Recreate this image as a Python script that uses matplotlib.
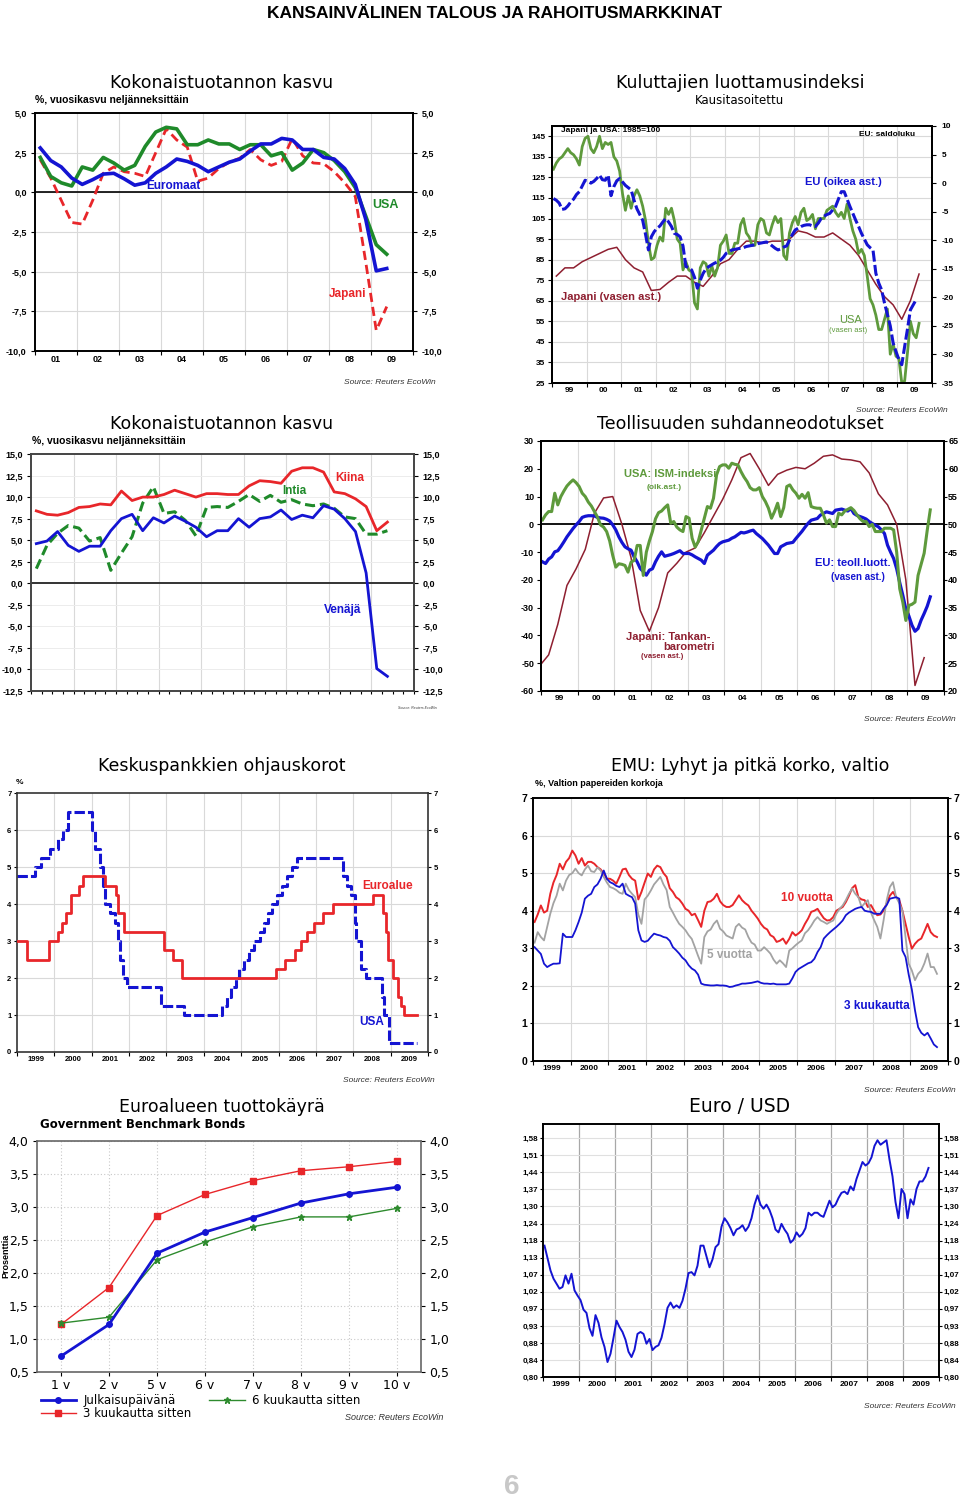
import numpy as np
import pandas as pd
import matplotlib
matplotlib.use("Agg")
import matplotlib.pyplot as plt
from matplotlib.ticker import NullLocator

plt.rcParams["font.family"] = ["Liberation Sans", "DejaVu Sans"]

# ---------------- data ----------------
# GDP growth, % y/y, quarterly 2001Q1 .. 2009Q2
gdp_euro = [2.8, 2.0, 1.6, 0.9, 0.5, 0.8, 1.15, 1.2, 0.85, 0.45, 0.6, 1.2,
            1.6, 2.1, 1.95, 1.7, 1.3, 1.6, 1.9, 2.1, 2.6, 3.05, 3.05, 3.4,
            3.3, 2.7, 2.7, 2.2, 2.1, 1.5, 0.5, -1.7, -4.95, -4.8]
gdp_usa = [2.2, 1.0, 0.6, 0.4, 1.6, 1.4, 2.2, 1.85, 1.4, 1.7, 2.9, 3.8,
           4.1, 4.0, 3.0, 3.0, 3.3, 3.05, 3.05, 2.7, 3.0, 3.0, 2.3, 2.5,
           1.4, 1.85, 2.7, 2.5, 2.0, 1.3, 0.3, -1.5, -3.3, -3.9]
gdp_japan = [2.05, 0.9, -0.5, -1.9, -2.0, -0.5, 1.2, 1.6, 1.3, 1.2, 1.0, 2.5,
             4.0, 3.3, 2.85, 0.7, 0.9, 1.5, 1.9, 2.15, 2.7, 2.05, 1.7, 1.95,
             3.4, 2.3, 1.85, 1.8, 1.3, 0.6, -0.25, -4.4, -8.7, -7.2]
gdp_china = [8.4, 8.0, 7.9, 8.2, 8.8, 8.9, 9.2, 9.1, 10.7, 9.6, 10.0, 10.0,
             10.3, 10.8, 10.4, 10.0, 10.4, 10.4, 10.3, 10.3, 11.3, 11.9, 11.8, 11.6,
             13.0, 13.4, 13.4, 12.9, 10.6, 10.4, 9.8, 8.9, 6.1, 7.1]
gdp_india = [1.7, 4.4, 5.8, 6.7, 6.4, 4.9, 5.3, 1.5, 3.5, 5.4, 9.3, 11.2,
             8.1, 8.3, 7.3, 5.5, 8.8, 8.9, 8.8, 9.5, 10.3, 9.5, 10.2, 9.4,
             9.7, 9.2, 9.0, 9.2, 8.7, 7.7, 7.5, 5.7, 5.7, 6.1]
gdp_russia = [4.6, 4.9, 6.0, 4.4, 3.7, 4.3, 4.3, 6.1, 7.5, 8.0, 6.1, 7.6,
              7.0, 7.8, 7.2, 6.5, 5.4, 6.1, 6.1, 7.5, 6.5, 7.5, 7.7, 8.5,
              7.4, 7.9, 7.6, 9.0, 8.6, 7.5, 6.0, 1.2, -9.9, -10.8]

# consumer confidence, monthly from 1999-01 (Japan quarterly from 1999Q1)
conf_usa = [129, 132, 134, 135, 137, 139, 137, 136, 134, 131, 140, 144,
            145, 139, 137, 140, 145, 139, 142, 141, 142, 135, 133, 128,
            117, 109, 116, 110, 116, 119, 116, 111, 104, 93, 85, 86,
            92, 96, 94, 110, 107, 110, 104, 95, 93, 80, 84, 80,
            79, 64, 61, 81, 84, 83, 77, 82, 77, 81, 92, 94,
            97, 88, 88, 93, 93, 102, 105, 98, 96, 92, 92, 102,
            105, 104, 98, 97, 102, 106, 103, 105, 87, 85, 98, 103,
            106, 102, 108, 110, 104, 105, 107, 100, 105, 105, 105, 109,
            110, 111, 108, 106, 108, 105, 112, 105, 99, 95, 88, 90,
            87, 77, 66, 63, 58, 51, 51, 56, 61, 39, 44, 38,
            37, 25, 26, 40, 55, 49, 47, 54]
conf_eu = [-2.7, -3.0, -3.5, -4.6, -4.5, -4.0, -3.3, -2.8, -2.0, -1.5, -0.5, 0.5,
           0.3, 0.0, 0.3, 0.8, 1.4, 0.6, 0.5, 1.4, -2.2, -0.6, 0.4, 0.8,
           0.2, -0.4, -0.8, -1.2, -3.0, -4.5, -5.5, -6.5, -9.0, -11.7, -9.4, -8.5,
           -7.9, -7.5, -6.8, -6.2, -6.8, -7.6, -8.8, -9.0, -9.4, -11.0, -14.6, -14.8,
           -15.2, -16.5, -18.4, -17.0, -15.8, -15.0, -14.6, -14.3, -14.0, -13.8, -13.5, -13.0,
           -12.3, -12.0, -11.7, -11.6, -11.5, -11.4, -11.3, -11.1, -11.0, -10.9, -10.8, -10.6,
           -10.5, -10.4, -10.3, -10.6, -11.0, -11.4, -11.7, -11.5, -11.2, -11.0, -10.0, -9.0,
           -8.2, -7.9, -7.6, -7.4, -7.3, -7.3, -7.5, -7.6, -7.0, -6.2, -5.8, -5.5,
           -5.3, -4.7, -4.1, -2.8, -1.5, -1.5, -2.8, -4.1, -5.3, -6.5, -7.6, -8.8,
           -9.8, -10.8, -11.3, -11.7, -15.8, -17.5, -18.7, -21.0, -23.0, -25.0, -28.0, -29.5,
           -30.9, -31.8, -28.6, -25.5, -22.2, -21.3, -20.4]
conf_japan = [77, 81, 81, 84, 86, 88, 90, 91, 85, 81, 79, 70,
              70.5, 74, 77, 77, 74, 72, 77, 83, 85, 90, 94, 94,
              93, 94, 94, 95, 99, 98, 96, 96, 98, 95, 92, 87,
              80, 73, 67, 63, 56, 65, 78]

# business surveys, monthly from 1999-01; Tankan quarterly from Dec 1998
ism = [50.8, 51.7, 52.3, 52.3, 55.6, 53.5, 55.0, 56.0, 56.9, 57.5, 58.0, 57.5,
       56.8, 55.6, 55.0, 54.0, 53.3, 52.3, 51.3, 49.9, 49.5, 48.7, 47.0, 44.4,
       42.3, 42.9, 42.8, 42.6, 41.4, 43.2, 43.5, 46.2, 46.2, 40.8, 45.0, 47.0,
       48.7, 51.0, 52.1, 52.4, 53.0, 53.5, 50.2, 50.5, 49.5, 49.0, 48.7, 51.4,
       51.1, 47.5, 45.9, 46.9, 49.0, 51.1, 53.2, 52.9, 54.7, 58.9, 60.4, 60.7,
       60.7, 60.1, 61.0, 60.8, 60.7, 59.5, 58.5, 57.7, 56.6, 56.2, 56.2, 56.6,
       55.0, 54.1, 52.9, 51.1, 52.3, 53.8, 51.4, 53.0, 56.8, 57.1, 56.2, 55.6,
       54.7, 55.4, 54.7, 55.7, 53.2, 53.0, 52.9, 52.9, 51.7, 50.2, 50.8, 49.6,
       49.6, 52.0, 51.7, 52.4, 52.7, 53.0, 52.5, 51.7, 51.0, 50.5, 50.5, 49.6,
       50.0, 48.7, 48.7, 48.7, 49.3, 49.3, 49.3, 49.0, 45.0, 38.4, 36.0, 32.7,
       35.4, 35.6, 36.0, 40.8, 42.8, 44.8, 48.9, 52.6]
eu_industry = [-13.5, -14.1, -12.5, -11.7, -9.9, -9.5, -8.0, -6.3, -4.5, -3.0, -1.5, -0.2,
               1.0, 2.5, 2.9, 3.1, 3.1, 3.0, 2.5, 2.3, 2.2, 1.8, 1.2, -0.2,
               -2.0, -4.5, -6.5, -8.1, -8.8, -9.3, -11.7, -13.5, -15.9, -17.0, -18.3, -16.5,
               -16.0, -13.5, -11.5, -9.9, -11.5, -11.2, -10.9, -10.5, -10.0, -9.5, -10.5, -10.5,
               -10.5, -11.0, -11.7, -12.3, -12.9, -14.1, -11.1, -10.2, -9.3, -8.0, -6.9, -6.3,
               -6.0, -5.7, -5.0, -4.5, -3.7, -2.9, -3.1, -2.8, -2.4, -2.1, -3.3, -4.2,
               -5.1, -6.3, -7.5, -9.0, -10.5, -10.5, -8.1, -7.5, -6.9, -6.7, -6.5, -5.1,
               -3.8, -2.5, -1.0, 0.4, 1.5, 1.8, 2.1, 3.3, 3.9, 4.5, 4.2, 3.9,
               5.1, 5.3, 5.5, 5.1, 4.8, 5.7, 3.9, 3.2, 2.8, 2.4, 1.9, 1.0,
               0.3, -0.3, -0.9, -2.0, -3.3, -7.5, -10.0, -12.3, -16.0, -21.0, -25.5, -30.5,
               -33.0, -36.3, -38.5, -37.5, -34.5, -32.1, -29.5, -26.1]
tankan = [-51, -47, -36, -22, -16, -9, 4, 9.5, 10, 0, -12, -31, -38.5,
          -30, -17.5, -14, -10, -8.5, -3, 3, 9, 16, 24, 25.5, 20,
          14, 18, 19.5, 20.5, 20, 22, 24.5, 25, 23.5, 23.2, 22.5, 18.5,
          11, 7, 0, -20, -58, -48]

# policy rates (change dates)
ecb_dates = ["1999-01-01", "1999-04-09", "1999-11-05", "2000-02-04", "2000-03-17",
             "2000-04-28", "2000-06-09", "2000-09-01", "2000-10-06", "2001-05-11",
             "2001-08-31", "2001-09-18", "2001-11-09", "2002-12-06", "2003-03-07",
             "2003-06-06", "2005-12-06", "2006-03-08", "2006-06-15", "2006-08-09",
             "2006-10-11", "2006-12-13", "2007-03-14", "2007-06-13", "2008-07-09",
             "2008-10-15", "2008-11-12", "2008-12-10", "2009-01-21", "2009-03-11",
             "2009-04-08", "2009-05-13", "2009-09-15"]
ecb_rates = [3.0, 2.5, 3.0, 3.25, 3.5, 3.75, 4.25, 4.5, 4.75, 4.5, 4.25, 3.75, 3.25,
             2.75, 2.5, 2.0, 2.25, 2.5, 2.75, 3.0, 3.25, 3.5, 3.75, 4.0,
             4.25, 3.75, 3.25, 2.5, 2.0, 1.5, 1.25, 1.0, 1.0]
fed_dates = ["1999-01-01", "1999-06-30", "1999-08-24", "1999-11-16", "2000-02-02",
             "2000-03-21", "2000-05-16", "2001-01-03", "2001-01-31", "2001-03-20",
             "2001-04-18", "2001-05-15", "2001-06-27", "2001-08-21", "2001-09-17",
             "2001-10-02", "2001-11-06", "2001-12-11", "2002-11-06", "2003-06-25",
             "2004-06-30", "2004-08-10", "2004-09-21", "2004-11-10", "2004-12-14",
             "2005-02-02", "2005-03-22", "2005-05-03", "2005-06-30", "2005-08-09",
             "2005-09-20", "2005-11-01", "2005-12-13", "2006-01-31", "2006-03-28",
             "2006-05-10", "2006-06-29", "2007-09-18", "2007-10-31", "2007-12-11",
             "2008-01-22", "2008-01-30", "2008-03-18", "2008-04-30", "2008-10-08",
             "2008-10-29", "2008-12-16", "2009-09-15"]
fed_rates = [4.75, 5.0, 5.25, 5.5, 5.75, 6.0, 6.5, 6.0, 5.5, 5.0, 4.5, 4.0, 3.75,
             3.5, 3.0, 2.5, 2.0, 1.75, 1.25, 1.0, 1.25, 1.5, 1.75, 2.0, 2.25,
             2.5, 2.75, 3.0, 3.25, 3.5, 3.75, 4.0, 4.25, 4.5, 4.75, 5.0, 5.25,
             4.75, 4.5, 4.25, 3.5, 3.0, 2.25, 2.0, 1.5, 1.0, 0.25, 0.25]

# EMU government yields, monthly from 1999-01
yield_10y = [3.7, 3.9, 4.14, 3.95, 4.0, 4.45, 4.75, 4.95, 5.25, 5.1, 5.3, 5.4,
             5.6, 5.47, 5.25, 5.4, 5.2, 5.3, 5.3, 5.25, 5.16, 5.1, 4.99, 4.85,
             4.85, 4.8, 4.72, 4.9, 5.1, 5.12, 4.95, 4.85, 4.8, 4.3, 4.5, 4.75,
             4.99, 4.9, 5.1, 5.2, 5.16, 5.0, 4.9, 4.6, 4.5, 4.36, 4.3, 4.19,
             4.05, 4.0, 3.88, 3.92, 3.75, 3.57, 4.0, 4.23, 4.25, 4.32, 4.45, 4.25,
             4.15, 4.1, 4.1, 4.15, 4.28, 4.41, 4.28, 4.2, 4.14, 4.0, 3.9, 3.79,
             3.65, 3.55, 3.5, 3.35, 3.3, 3.17, 3.2, 3.26, 3.12, 3.25, 3.43, 3.34,
             3.4, 3.48, 3.65, 3.79, 3.97, 4.0, 4.05, 3.92, 3.8, 3.74, 3.75, 3.83,
             4.0, 4.05, 4.1, 4.23, 4.4, 4.6, 4.68, 4.36, 4.3, 4.28, 4.1, 4.15,
             4.0, 3.88, 3.9, 4.0, 4.2, 4.4, 4.5, 4.36, 4.28, 4.0, 3.65, 3.3,
             2.99, 3.12, 3.21, 3.26, 3.45, 3.65, 3.43, 3.34, 3.3]
yield_5y = [3.15, 3.43, 3.3, 3.21, 3.57, 3.92, 4.2, 4.4, 4.72, 4.54, 4.8, 4.95,
            5.0, 5.12, 5.0, 4.94, 5.1, 5.2, 5.05, 5.03, 5.15, 5.07, 4.9, 4.75,
            4.63, 4.6, 4.55, 4.48, 4.45, 4.72, 4.55, 4.45, 4.36, 3.9, 3.65, 4.3,
            4.4, 4.54, 4.7, 4.8, 4.9, 4.7, 4.55, 4.1, 3.95, 3.79, 3.65, 3.57,
            3.48, 3.35, 3.25, 3.03, 2.8, 2.59, 3.3, 3.45, 3.5, 3.65, 3.74, 3.52,
            3.45, 3.34, 3.3, 3.26, 3.57, 3.65, 3.55, 3.5, 3.3, 3.15, 3.1, 2.94,
            2.94, 3.03, 2.95, 2.86, 2.7, 2.59, 2.68, 2.6, 2.5, 2.94, 3.0, 3.08,
            3.15, 3.21, 3.4, 3.48, 3.6, 3.74, 3.83, 3.74, 3.7, 3.65, 3.7, 3.74,
            3.92, 4.05, 4.14, 4.28, 4.45, 4.59, 4.45, 4.36, 4.1, 4.2, 4.28, 3.95,
            3.75, 3.57, 3.26, 3.74, 4.28, 4.63, 4.76, 4.36, 4.2, 4.0, 3.3, 2.59,
            2.41, 2.15, 2.32, 2.41, 2.6, 2.86, 2.5, 2.5, 2.32]
yield_3m = [3.03, 2.94, 2.85, 2.59, 2.5, 2.55, 2.59, 2.59, 2.6, 3.39, 3.3, 3.3,
            3.3, 3.48, 3.7, 3.95, 4.32, 4.4, 4.45, 4.63, 4.7, 4.85, 5.07, 4.85,
            4.76, 4.72, 4.66, 4.63, 4.72, 4.45, 4.4, 4.36, 4.19, 3.48, 3.21, 3.17,
            3.2, 3.3, 3.39, 3.36, 3.34, 3.3, 3.28, 3.2, 3.03, 2.95, 2.86, 2.75,
            2.68, 2.55, 2.46, 2.41, 2.3, 2.06, 2.03, 2.02, 2.01, 2.01, 2.02, 2.01,
            2.01, 2.0, 1.97, 1.98, 2.01, 2.03, 2.06, 2.06, 2.07, 2.08, 2.1, 2.12,
            2.08, 2.06, 2.06, 2.05, 2.06, 2.04, 2.04, 2.04, 2.04, 2.06, 2.2, 2.37,
            2.45, 2.5, 2.55, 2.6, 2.63, 2.72, 2.9, 3.03, 3.26, 3.35, 3.43, 3.5,
            3.57, 3.65, 3.74, 3.88, 3.95, 4.0, 4.05, 4.08, 4.1, 4.0, 3.98, 3.97,
            3.92, 3.92, 3.92, 4.05, 4.15, 4.32, 4.34, 4.36, 4.32, 2.94, 2.77, 2.3,
            1.9, 1.35, 0.9, 0.75, 0.68, 0.75, 0.6, 0.44, 0.37]

# euro area yield curve
maturities = ["1 v", "2 v", "5 v", "6 v", "7 v", "8 v", "9 v", "10 v"]
curve_now = [0.74, 1.22, 2.30, 2.62, 2.84, 3.06, 3.20, 3.30]
curve_3m = [1.22, 1.78, 2.87, 3.19, 3.40, 3.55, 3.61, 3.69]
curve_6m = [1.24, 1.33, 2.20, 2.47, 2.70, 2.85, 2.85, 2.98]

# EUR/USD, monthly from 1999-01
eurusd = [1.165, 1.125, 1.085, 1.06, 1.045, 1.03, 1.035, 1.07, 1.045, 1.075, 1.025, 1.01,
          0.997, 0.97, 0.961, 0.92, 0.9, 0.955, 0.934, 0.896, 0.872, 0.835, 0.855, 0.895,
          0.94, 0.923, 0.91, 0.89, 0.86, 0.847, 0.865, 0.905, 0.91, 0.905, 0.88, 0.892,
          0.864, 0.872, 0.876, 0.895, 0.93, 0.975, 0.99, 0.975, 0.982, 0.975, 0.995, 1.03,
          1.077, 1.08, 1.07, 1.10, 1.165, 1.165, 1.13, 1.095, 1.12, 1.16, 1.17, 1.23,
          1.26, 1.245, 1.225, 1.20, 1.22, 1.225, 1.235, 1.215, 1.23, 1.26, 1.31, 1.345,
          1.31, 1.295, 1.31, 1.29, 1.26, 1.22, 1.21, 1.24, 1.22, 1.205, 1.175, 1.185,
          1.21, 1.195, 1.205, 1.225, 1.28, 1.27, 1.28, 1.28, 1.27, 1.265, 1.295, 1.325,
          1.30, 1.31, 1.335, 1.355, 1.36, 1.35, 1.38, 1.365, 1.41, 1.445, 1.48, 1.465,
          1.475, 1.50, 1.55, 1.575, 1.555, 1.565, 1.575, 1.49, 1.42, 1.32, 1.26, 1.37,
          1.35, 1.26, 1.33, 1.31, 1.37, 1.40, 1.40, 1.42, 1.455]

yy_short = ["99", "00", "01", "02", "03", "04", "05", "06", "07", "08", "09"]
yy_long = [str(y) for y in range(1999, 2010)]

# ---------------- styling ----------------
BLUE = "#1414d2"
RED = "#e8262a"
GREEN = "#1f8a2a"
OLIVE = "#5e9a3c"
DARKRED = "#8e1f30"
GRAY = "#a3a3a3"
GRID = "#d9d9d9"
TITLE_FONT = "DejaVu Sans"

W, H = 960, 1500
fig = plt.figure(figsize=(9.6, 15), dpi=100)


def box(l, t, r, b):
    return [l / W, 1 - b / H, (r - l) / W, (b - t) / H]


def ftext(x, y, s, **kw):
    kw.setdefault("ha", "center")
    kw.setdefault("va", "center")
    fig.text(x / W, 1 - y / H, s, **kw)


def monthly(start, n):
    return start + (np.arange(n) + 0.5) / 12


def quarterly(start, n):
    return start + (np.arange(n) + 0.5) / 4


def dec_year(dates):
    d = pd.to_datetime(dates)
    return np.asarray(d.year + (d.dayofyear - 1) / 365.25)


def comma(v, nd=1):
    return f"{v:.{nd}f}".replace(".", ",")


def year_axis(ax, y0, y1, labels, fs=6.5, pad=3, grid=GRID, glw=0.8):
    ax.set_xlim(y0, y1)
    years = np.arange(y0, y1 + 1)
    ax.set_xticks(years)
    ax.set_xticklabels([])
    ax.set_xticks(years[:-1] + 0.5, minor=True)
    ax.set_xticklabels(labels, minor=True, fontsize=fs, fontweight="bold")
    ax.tick_params(axis="x", which="minor", length=0, pad=pad)
    ax.tick_params(axis="x", which="major", length=3, width=0.8)
    for y in years[1:-1]:
        ax.axvline(y, color=grid, lw=glw, zorder=0)


def frame(ax, lw=1.4, color="black"):
    for s in ax.spines.values():
        s.set_linewidth(lw)
        s.set_color(color)


def source(x, y, fs=6):
    ftext(x, y, "Source: Reuters EcoWin", ha="right", fontsize=fs, style="italic",
          color="#333333")


# header
ftext(495, 14, "KANSAINVÄLINEN TALOUS JA RAHOITUSMARKKINAT", fontsize=12.5,
      fontweight="bold")

# ---------- panel 1: GDP growth, developed ----------
ax = fig.add_axes(box(35, 113, 413, 351))
year_axis(ax, 2001, 2010, yy_short[2:])
ax.set_ylim(-10, 5)
yt = np.arange(-10, 5.01, 2.5)
ax.set_yticks(yt)
ax.set_yticklabels([comma(v) for v in yt], fontsize=6.5, fontweight="bold")
ax.tick_params(axis="y", which="both", right=True, labelright=True, length=3, pad=3)
for v in yt[1:-1]:
    ax.axhline(v, color=GRID, lw=0.8, zorder=0)
ax.axhline(0, color="black", lw=1.2, zorder=1)
tq = quarterly(2001, len(gdp_euro))
ax.plot(tq, gdp_japan, color=RED, lw=2, dashes=(3.3, 1.8), zorder=2)
ax.plot(tq, gdp_usa, color=GREEN, lw=2.6, zorder=3)
ax.plot(tq, gdp_euro, color=BLUE, lw=2.6, zorder=4)
frame(ax)
ftext(222, 83, "Kokonaistuotannon kasvu", fontsize=12.5, family=TITLE_FONT)
ftext(35, 100, "%, vuosikasvu neljänneksittäin", ha="left", fontsize=7.5,
      fontweight="bold")
ftext(173, 186, "Euromaat", color=BLUE, fontsize=8.5, fontweight="bold")
ftext(385, 205, "USA", color=GREEN, fontsize=9, fontweight="bold")
ftext(348, 294, "Japani", color=RED, fontsize=8.5, fontweight="bold")
source(436, 382)

# ---------- panel 2: consumer confidence ----------
ax = fig.add_axes(box(552, 126, 932, 383))
year_axis(ax, 1999, 2010, yy_short, fs=6)
ax.set_ylim(25, 150)
yt = np.arange(25, 146, 10)
ax.set_yticks(yt)
ax.set_yticklabels([str(v) for v in yt], fontsize=6, fontweight="bold")
ax.tick_params(axis="y", length=3, pad=2)
for v in yt[1:]:
    ax.axhline(v, color=GRID, lw=0.8, zorder=0)
ax.plot(quarterly(1999, len(conf_japan)), conf_japan, color=DARKRED, lw=1.1)
ax.plot(monthly(1999, len(conf_usa)), conf_usa, color=OLIVE, lw=2)
axr = ax.twinx()
axr.set_ylim(-35, 10)
yt = np.arange(-35, 11, 5)
axr.set_yticks(yt)
axr.set_yticklabels([str(v) for v in yt], fontsize=6, fontweight="bold")
axr.tick_params(axis="y", length=3, pad=4)
axr.plot(monthly(1999, len(conf_eu)), conf_eu, color=BLUE, lw=2.2, dashes=(3.6, 1.1))
frame(ax)
frame(axr)
ftext(740, 83, "Kuluttajien luottamusindeksi", fontsize=12.5, family=TITLE_FONT)
ftext(740, 100, "Kausitasoitettu", fontsize=8.5, family=TITLE_FONT)
ftext(561, 131, "Japani ja USA: 1985=100", ha="left", fontsize=6, fontweight="bold")
ftext(915, 135, "EU: saldoluku", ha="right", fontsize=6, fontweight="bold")
ftext(843, 182, "EU (oikea ast.)", color=BLUE, fontsize=8, fontweight="bold")
ftext(611, 297, "Japani (vasen ast.)", color=DARKRED, fontsize=8, fontweight="bold")
ftext(851, 320, "USA", color=OLIVE, fontsize=8)
ftext(848, 330, "(vasen ast)", color=OLIVE, fontsize=5.5)
source(948, 411)

# ---------- panel 3: GDP growth, emerging ----------
ax = fig.add_axes(box(31, 454, 414, 691))
year_axis(ax, 2001, 2010, yy_short[2:])
ax.set_xticks(np.arange(2001, 2010.01, 0.25), minor=False)
ax.set_xticklabels([])
ax.tick_params(axis="x", which="major", length=2)
ax.set_ylim(-12.5, 15)
yt = np.arange(-12.5, 15.01, 2.5)
ax.set_yticks(yt)
ax.set_yticklabels([comma(v) for v in yt], fontsize=6.5, fontweight="bold")
ax.tick_params(axis="y", which="both", right=True, labelright=True, length=3, pad=3)
for v in yt[1:-1]:
    ax.axhline(v, color="#ececec", lw=0.7, zorder=0)
ax.axhline(0, color="#333333", lw=1.4, zorder=1)
tq = quarterly(2001, len(gdp_china))
ax.plot(tq, gdp_india, color=GREEN, lw=2.2, dashes=(3.3, 1.6), zorder=2)
ax.plot(tq, gdp_russia, color=BLUE, lw=2, zorder=3)
ax.plot(tq, gdp_china, color=RED, lw=2, zorder=4)
frame(ax, color="#444444")
ftext(222, 424, "Kokonaistuotannon kasvu", fontsize=12.5, family=TITLE_FONT)
ftext(32, 441, "%, vuosikasvu neljänneksittäin", ha="left", fontsize=7.5,
      fontweight="bold")
ftext(350, 478, "Kiina", color=RED, fontsize=8.5, fontweight="bold")
ftext(294, 491, "Intia", color=GREEN, fontsize=8.5, fontweight="bold")
ftext(343, 610, "Venäjä", color=BLUE, fontsize=8.5, fontweight="bold")
source(437, 708, fs=2.5)

# ---------- panel 4: business surveys ----------
ax = fig.add_axes(box(541, 441, 944, 691))
year_axis(ax, 1999, 2010, yy_short, fs=6)
ax.set_ylim(-60, 30)
yt = np.arange(-60, 31, 10)
ax.set_yticks(yt)
ax.set_yticklabels([str(v) for v in yt], fontsize=6.5, fontweight="bold")
ax.tick_params(axis="y", length=3, pad=2)
ax.axhline(0, color="black", lw=1.3, zorder=1)
ax.plot(1998 + 11.5 / 12 + 0.25 * np.arange(len(tankan)), tankan, color=DARKRED, lw=1.1)
ax.plot(monthly(1999, len(eu_industry)), eu_industry, color=BLUE, lw=2.3)
axr = ax.twinx()
axr.set_ylim(20, 65)
yt = np.arange(20, 66, 5)
axr.set_yticks(yt)
axr.set_yticklabels([str(v) for v in yt], fontsize=6.5, fontweight="bold")
axr.tick_params(axis="y", length=2, pad=1)
axr.plot(monthly(1999, len(ism)), ism, color=OLIVE, lw=2.2)
ax.set_xlim(1999, 2010)
frame(ax)
frame(axr)
ftext(740, 424, "Teollisuuden suhdanneodotukset", fontsize=12.5, family=TITLE_FONT)
ftext(670, 474, "USA: ISM-indeksi", color=OLIVE, fontsize=8, fontweight="bold")
ftext(664, 488, "(oik.ast.)", color=OLIVE, fontsize=6, fontweight="bold")
ftext(853, 563, "EU: teoll.luott.", color=BLUE, fontsize=8, fontweight="bold")
ftext(858, 577, "(vasen ast.)", color=BLUE, fontsize=7, fontweight="bold")
ftext(668, 637, "Japani: Tankan-", color=DARKRED, fontsize=8, fontweight="bold")
ftext(689, 647, "barometri", color=DARKRED, fontsize=8, fontweight="bold")
ftext(662, 657, "(vasen ast.)", color=DARKRED, fontsize=5.5, fontweight="bold")
source(956, 719)

# ---------- panel 5: policy rates ----------
ax = fig.add_axes(box(17, 793, 428, 1052))
year_axis(ax, 1999, 2010, yy_long, fs=5.5)
ax.set_ylim(0, 7)
yt = np.arange(0, 8)
ax.set_yticks(yt)
ax.set_yticklabels([str(v) for v in yt], fontsize=5.5, fontweight="bold")
ax.tick_params(axis="y", right=True, labelright=True, length=2, pad=2)
for v in yt[1:-1]:
    ax.axhline(v, color=GRID, lw=0.8, zorder=0)
ax.step(dec_year(ecb_dates), ecb_rates, where="post", color=RED, lw=2, zorder=3)
ax.step(dec_year(fed_dates), fed_rates, where="post", color=BLUE, lw=2.2,
        dashes=(3.4, 1.0), zorder=2)
frame(ax, lw=1.2, color="#333333")
ftext(222, 766, "Keskuspankkien ohjauskorot", fontsize=12.5, family=TITLE_FONT)
ftext(20, 782, "%", fontsize=6, fontweight="bold")
ftext(388, 886, "Euroalue", color=RED, fontsize=8.5, fontweight="bold")
ftext(372, 1022, "USA", color=BLUE, fontsize=8.5, fontweight="bold")
source(435, 1081)

# ---------- panel 6: EMU yields ----------
ax = fig.add_axes(box(533, 798, 948, 1061))
year_axis(ax, 1999, 2010, yy_long, fs=6)
ax.set_ylim(0, 7)
yt = np.arange(0, 8)
ax.set_yticks(yt)
ax.set_yticklabels([str(v) for v in yt], fontsize=7.5, fontweight="bold")
ax.tick_params(axis="y", right=True, labelright=True, length=2, pad=2)
for v in yt[1:-1]:
    ax.axhline(v, color=GRID, lw=0.8, zorder=0)
tm = monthly(1999, len(yield_10y))
ax.plot(tm, yield_10y, color=RED, lw=1.4)
ax.plot(tm, yield_5y, color=GRAY, lw=1.3)
ax.plot(tm, yield_3m, color=BLUE, lw=1.3)
frame(ax)
ftext(750, 766, "EMU: Lyhyt ja pitkä korko, valtio", fontsize=12.5, family=TITLE_FONT)
ftext(535, 783, "%, Valtion papereiden korkoja", ha="left", fontsize=6.5,
      fontweight="bold")
ftext(807, 898, "10 vuotta", color=RED, fontsize=8.5, fontweight="bold")
ftext(730, 955, "5 vuotta", color=GRAY, fontsize=8.5, fontweight="bold")
ftext(877, 1006, "3 kuukautta", color=BLUE, fontsize=8.5, fontweight="bold")
source(956, 1091)

# ---------- panel 7: yield curve ----------
ax = fig.add_axes(box(37, 1141, 421, 1372))
l1, = ax.plot(maturities, curve_now, color=BLUE, lw=2, marker="o", ms=4,
              label="Julkaisupäivänä", zorder=4)
l2, = ax.plot(maturities, curve_3m, color=RED, lw=1, marker="s", ms=4,
              label="3 kuukautta sitten", zorder=3)
l3, = ax.plot(maturities, curve_6m, color="#2e8b2e", lw=1, marker="*", ms=5,
              label="6 kuukautta sitten", zorder=3)
ax.set_xlim(-0.5, len(maturities) - 0.5)
ax.set_ylim(0.5, 4.0)
yt = np.arange(0.5, 4.01, 0.5)
ax.set_yticks(yt)
ax.set_yticklabels([comma(v) for v in yt], fontsize=9, family="DejaVu Sans")
ax.tick_params(axis="y", right=True, labelright=True, length=3, pad=3)
ax.tick_params(axis="x", length=3, pad=2, labelsize=9)
for lab in ax.get_xticklabels():
    lab.set_family("DejaVu Sans")
ax.grid(True, color="#c8c8c8", lw=0.8, ls=(0, (1, 2)))
frame(ax, lw=1.2, color="#666666")
ftext(6, 1256, "Prosenttia", rotation=90, fontsize=6.5, fontweight="bold")
ax.legend(handles=[l1, l2, l3], ncol=2, loc="upper left", frameon=False,
          bbox_to_anchor=(36 / W, 1 - 1389 / H), bbox_transform=fig.transFigure,
          prop={"family": "DejaVu Sans", "size": 8.5}, handlelength=3,
          labelspacing=0.0, columnspacing=1.5, borderaxespad=0, handletextpad=0.6)
ftext(222, 1107, "Euroalueen tuottokäyrä", fontsize=12.5, family=TITLE_FONT)
ftext(40, 1125, "Government Benchmark Bonds", ha="left", fontsize=8.5,
      fontweight="bold", family="DejaVu Sans")
source(443, 1418, fs=6.5)

# ---------- panel 8: EUR/USD ----------
ax = fig.add_axes(box(543, 1124, 939, 1377))
ax.set_yscale("log")
yt = 0.8 * 1.05 ** np.arange(15)
ax.set_ylim(0.8, 1.65)
ax.set_yticks(yt)
ax.set_yticklabels([comma(v, 2) for v in yt], fontsize=5.8, fontweight="bold")
ax.yaxis.set_minor_locator(NullLocator())
ax.tick_params(axis="y", right=True, labelright=True, length=2, pad=1.5)
year_axis(ax, 1999, 2010, yy_long, fs=6, grid="#a8a8a8", glw=0.9)
for v in yt[1:]:
    ax.axhline(v, color="#e0e0e0", lw=0.8, zorder=0)
ax.plot(monthly(1999, len(eurusd)), eurusd, color=BLUE, lw=1.4)
frame(ax)
ftext(740, 1107, "Euro / USD", fontsize=13.5, family=TITLE_FONT)
source(956, 1407)

# page number
ftext(512, 1487, "6", fontsize=20, fontweight="bold", color="#c8c8c8")

fig.savefig("out.png", dpi=100)
